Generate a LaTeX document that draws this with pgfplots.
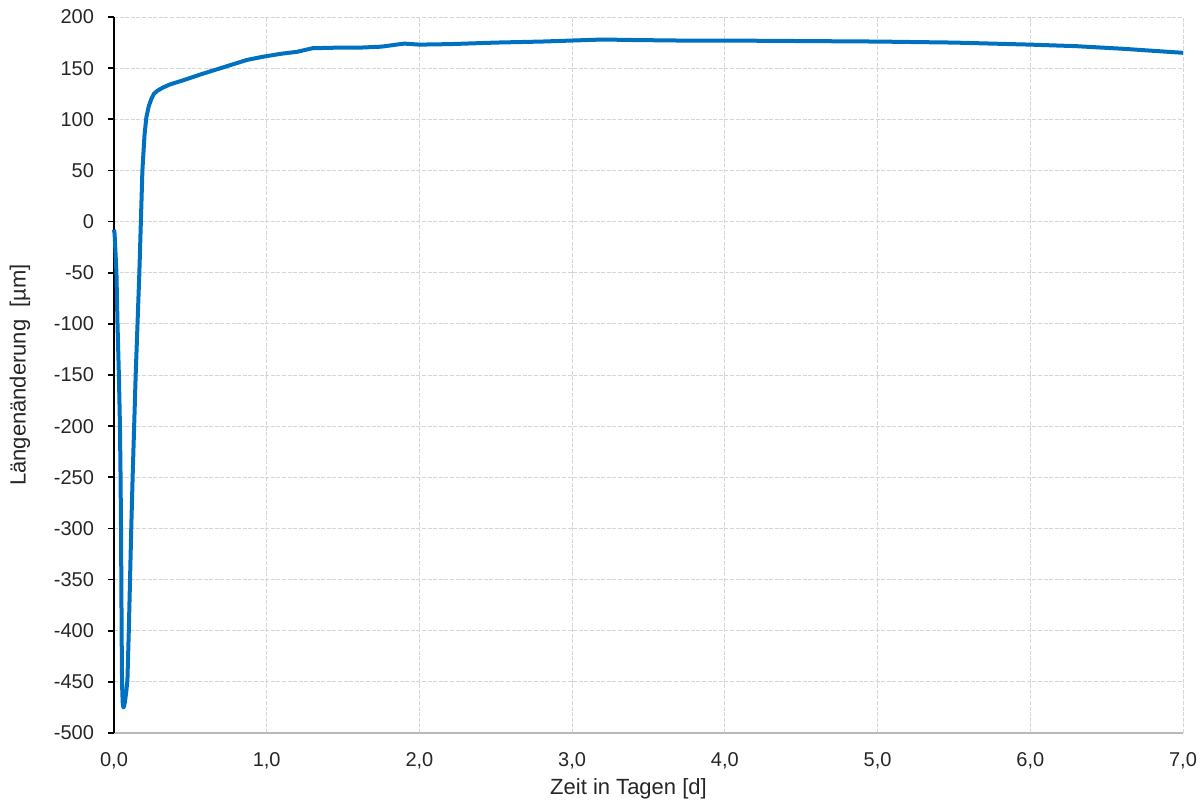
\documentclass[border=0pt]{standalone}
\usepackage{pgfplots}
\pgfplotsset{compat=1.18}
\usepackage{fontspec}
\setmainfont{Liberation Sans}
\definecolor{excelblue}{RGB}{0,112,192}
\begin{document}
\begin{tikzpicture}
\useasboundingbox (-57pt,-37.5pt) rectangle (543pt,366.5pt);
\begin{axis}[
  scale only axis, width=534.5pt, height=358pt,
  xmin=0, xmax=7, ymin=-500, ymax=200,
  xtick={0,1,2,3,4,5,6,7},
  xticklabels={{0,0},{1,0},{2,0},{3,0},{4,0},{5,0},{6,0},{7,0}},
  ytick={-500,-450,-400,-350,-300,-250,-200,-150,-100,-50,0,50,100,150,200},
  yticklabels={-500,-450,-400,-350,-300,-250,-200,-150,-100,-50,0,50,100,150,200},
  axis x line*=bottom, axis y line*=left,
  x axis line style={gray!55, line width=0.6pt, -},
  y axis line style={black, line width=1pt, -},
  xtick style={draw=none},
  ytick style={black, line width=0.8pt},
  tick align=outside, major tick length=3pt,
  grid=major,
  major grid style={gray!32, line width=0.4pt, dash pattern=on 2pt off 0.8pt},
  ticklabel style={font=\fontsize{10}{12}\selectfont, text=black!85},
  yticklabel style={xshift=-3.5pt},
  xticklabel style={yshift=-3pt},
  every axis y label/.style={at={(axis description cs:0,0.5)}, xshift=-47pt, rotate=90, anchor=center, font=\fontsize{11}{13}\selectfont, text=black!85},
  every axis x label/.style={at={(axis description cs:0.5,0)}, yshift=-28pt, xshift=-10pt, anchor=center, font=\fontsize{11}{13}\selectfont, text=black!85},
  ylabel={Längenänderung\ \ [µm]},
  xlabel={Zeit in Tagen [d]},
  clip=false,
]
\addplot[excelblue, line width=2pt, line join=round] coordinates {
(0.000,-8) (0.004,-12) (0.016,-50) (0.023,-100) (0.032,-150) (0.039,-200)
(0.043,-250) (0.046,-300) (0.048,-350) (0.050,-400) (0.052,-440)
(0.054,-458) (0.057,-470) (0.061,-475) (0.066,-474) (0.072,-469) (0.080,-460)
(0.088,-448) (0.097,-400) (0.105,-350) (0.113,-300) (0.122,-250) (0.132,-200)
(0.142,-150) (0.154,-100) (0.166,-50) (0.176,0) (0.186,50) (0.200,85) (0.212,102)
(0.228,113) (0.245,120) (0.262,125) (0.285,128) (0.32,131) (0.365,134) (0.45,138)
(0.57,144) (0.72,151) (0.87,158) (0.97,161) (1.09,164) (1.2,166) (1.3,169.5)
(1.45,170) (1.6,170) (1.75,171) (1.9,174) (2.0,173) (2.2,173.5) (2.5,175)
(2.8,176) (3.0,177) (3.2,178) (3.4,177.5) (3.7,177) (4.0,177) (4.5,176.5)
(5.0,176) (5.5,175) (6.0,173) (6.3,171.5) (6.6,169) (6.8,167) (7.0,165)
};
\end{axis}
\end{tikzpicture}
\end{document}
